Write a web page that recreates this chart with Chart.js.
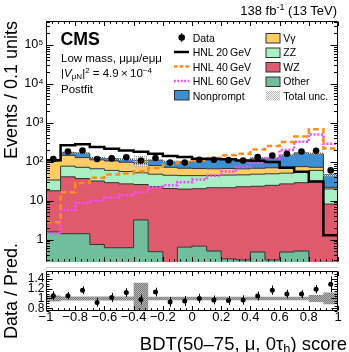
<!DOCTYPE html>
<html>
<head>
<meta charset="utf-8">
<title>BDT score, postfit</title>
<script src="https://cdn.jsdelivr.net/npm/chart.js@4.4.1/dist/chart.umd.min.js"></script>
<style>
body { margin: 0; background: #fff; }
#page { position: relative; width: 349px; height: 352px; overflow: hidden; font-family: "Liberation Sans", Arial, Helvetica, sans-serif; color: #000; }
#page canvas { position: absolute; left: 0; }
.t { position: absolute; white-space: nowrap; line-height: 0; }
.sup { position: relative; top: -0.45em; font-size: 70%; }
.sub { position: relative; top: 0.3em; font-size: 70%; }
.rot { transform-origin: 0 0; transform: rotate(-90deg); width: 200px; }
.leg { font-size: 10.5px; }
</style>
</head>
<body>
<div id="page">
<canvas id="mainChart" width="349" height="266" style="top:0"></canvas>
<canvas id="ratioChart" width="349" height="86" style="top:266px"></canvas>
<div style="position:absolute; left:46px; top:266.5px; width:292px; height:1.5px; background:#c8c8c8"></div>

<svg width="349" height="110" style="position:absolute; left:0; top:0">
  <defs>
    <pattern id="chk" width="2" height="2" patternUnits="userSpaceOnUse">
      <rect width="1" height="1" fill="#b4b4b4"/><rect x="1" y="1" width="1" height="1" fill="#b4b4b4"/>
    </pattern>
  </defs>
  <line x1="181.7" y1="33" x2="181.7" y2="42" stroke="#000" stroke-width="1"/>
  <circle cx="181.7" cy="37.5" r="3.3" fill="#000"/>
  <line x1="174" y1="52" x2="189" y2="52" stroke="#000" stroke-width="2.5"/>
  <line x1="174" y1="66.5" x2="189" y2="66.5" stroke="#ff8c1a" stroke-width="2.5" stroke-dasharray="3.5 2.2"/>
  <line x1="174" y1="81" x2="189" y2="81" stroke="#f54cf5" stroke-width="2.5" stroke-dasharray="1.8 1.6"/>
  <rect x="174.5" y="90.5" width="14.5" height="9.5" fill="#3d8fd1" stroke="#333" stroke-width="1"/>
  <rect x="266" y="33.5" width="14" height="9.5" fill="#ffcc66" stroke="#333" stroke-width="1"/>
  <rect x="266" y="48" width="14" height="9.5" fill="#a8f0c4" stroke="#333" stroke-width="1"/>
  <rect x="266" y="62.5" width="14" height="9.5" fill="#df5a6c" stroke="#333" stroke-width="1"/>
  <rect x="266" y="77" width="14" height="9.5" fill="#70be9c" stroke="#333" stroke-width="1"/>
  <rect x="266" y="91" width="14" height="9.5" fill="url(#chk)"/>
</svg>

<div class="t" style="right:12px; top:10.5px; font-size:13px">138 fb<span class="sup">-1</span> (13 TeV)</div>
<div class="t" style="left:60.5px; top:39.4px; font-size:17.7px; font-weight:bold">CMS</div>
<div class="t" style="left:61px; top:58px; font-size:11.5px">Low mass, μμμ/eμμ</div>
<div class="t" style="left:61px; top:72.7px; font-size:11.5px">|<i>V</i><span class="sub">μN</span>|<span class="sup">2</span> = 4.9&thinsp;×&thinsp;10<span class="sup">−4</span></div>
<div class="t" style="left:61px; top:88.5px; font-size:11.5px">Postfit</div>

<div class="t leg" style="left:192.7px; top:38.1px">Data</div>
<div class="t leg" style="left:192.7px; top:52.4px">HNL 20&thinsp;GeV</div>
<div class="t leg" style="left:192.7px; top:67.1px">HNL 40&thinsp;GeV</div>
<div class="t leg" style="left:192.7px; top:81.4px">HNL 60&thinsp;GeV</div>
<div class="t leg" style="left:192.7px; top:95.7px">Nonprompt</div>
<div class="t leg" style="left:283.3px; top:38.1px">Vγ</div>
<div class="t leg" style="left:283.3px; top:52.4px">ZZ</div>
<div class="t leg" style="left:283.3px; top:67.1px">WZ</div>
<div class="t leg" style="left:283.3px; top:81.4px">Other</div>
<div class="t leg" style="left:283.3px; top:95.7px">Total unc.</div>

<div class="t rot" style="left:10.6px; top:220.7px; font-size:18px; text-align:right">Events / 0.1 units</div>
<div class="t rot" style="left:10.6px; top:391px; font-size:18px; text-align:center">Data / Pred.</div>
<div class="t" style="right:2px; top:343.6px; font-size:18.5px">BDT(50–75, μ, 0τ<span class="sub">h</span>) score</div>
</div>

<script>
// bin edges of the BDT score
let binEdges = [-1, -0.9, -0.8, -0.7, -0.6, -0.5, -0.4, -0.3, -0.2, -0.1, 0, 0.1, 0.2, 0.3, 0.4, 0.5, 0.6, 0.7, 0.8, 0.9, 1];

// backgrounds, events per bin (postfit)
let other     = [1.57, 1.42, 1.42, 0.75, 0.62, 0.62, 3.2, 0.49, 0, 0.64, 0.68, 0.51, 0.32, 0.30, 0.48, 0.30, 0.48, 0.51, 0, 0];
let wz        = [16.4, 39.6, 35.6, 31.3, 28.4, 26.4, 22.8, 22.5, 20.5, 19.2, 19.6, 21.0, 21.2, 22.5, 23.0, 24.5, 26.5, 28.5, 31.5, 8.2];
let zz        = [16, 36, 35, 34, 31, 29, 26, 25, 24.5, 24.2, 23.7, 23, 24, 23.2, 24.5, 24.2, 24, 25, 28.5, 11.8];
let vgamma    = [71, 69, 56, 46, 45, 41, 38, 32, 27, 24, 23, 21.5, 21.5, 20, 20, 21, 21, 21, 12, 2];
let nonprompt = [7, 28, 39, 16, 15, 19, 20, 31, 30, 32, 46, 50, 48, 45, 58, 54, 76, 94, 89, 24.5];
// relative total uncertainty
let totalUnc  = [0.06, 0.04, 0.04, 0.04, 0.04, 0.04, 0.32, 0.035, 0.035, 0.035, 0.035, 0.035, 0.035, 0.035, 0.035, 0.035, 0.035, 0.035, 0.07, 0.12];

// signals
let hnl20 = [110, 265, 280, 238, 215, 195, 180, 160, 140, 132, 120, 118, 116, 108, 106, 98, 70, 55, 31, 1.3];
let hnl40 = [2.8, 16.5, 28.5, 39, 47, 50, 57, 69, 84, 98, 108, 125, 146, 161, 205, 255, 320, 445, 680, 220];
let hnl60 = [1.45, 5.8, 8.7, 10, 12, 14, 16.5, 22, 25, 30, 35, 44, 56, 74, 93, 125, 200, 325, 500, 290];

// observed
let data     = [118, 184, 195, 118, 122, 130, 108, 125, 95, 95, 113, 113, 110, 108, 132, 145, 161, 184, 192, 60];
let ratio    = [1.057, 1.057, 1.17, 0.92, 1.02, 1.12, 0.98, 1.13, 0.93, 0.95, 1.0, 0.97, 0.96, 0.97, 1.05, 1.17, 1.09, 1.09, 1.19, 1.29];
let ratioErr = [0.09, 0.075, 0.08, 0.09, 0.09, 0.09, 0.1, 0.09, 0.1, 0.1, 0.095, 0.09, 0.09, 0.095, 0.09, 0.095, 0.085, 0.08, 0.085, 0.16];

// axes
let xTicks = [-1, -0.8, -0.6, -0.4, -0.2, 0, 0.2, 0.4, 0.6, 0.8, 1];
let xTickLabels = ['\u22121', '\u22120.8', '\u22120.6', '\u22120.4', '\u22120.2', '0', '0.2', '0.4', '0.6', '0.8', '1'];
let yTicks = [1, 10, 100, 1000, 10000, 100000];
let yTickLabels = ['1', '10', '10\u00b2', '10\u00b3', '10\u2074', '10\u2075'];
let ratioTicks = [0.8, 1, 1.2, 1.4];
let ratioTickLabels = ['0.8', '1', '1.2', '1.4'];
let yMin = 0.266, yMax = 4.2e5;
let rMin = 0.745, rMax = 1.57;

let fontFam = '"Liberation Sans", Arial, sans-serif';

// histogram as a step line through the bin edges
function steps(vals){
    let pts = [];
    for(let i = 0; i < vals.length; i++){
        pts.push({x: binEdges[i], y: vals[i]});
    }
    pts.push({x: binEdges[vals.length], y: vals[vals.length - 1]});
    return pts;
}

function centers(vals){
    let pts = [];
    for(let i = 0; i < vals.length; i++){
        pts.push({x: (binEdges[i] + binEdges[i + 1]) / 2, y: vals[i]});
    }
    return pts;
}

// 2x2 checker used for the uncertainty bands
function makePattern(dark, light, bg){
    let c = document.createElement('canvas');
    c.width = 2; c.height = 2;
    let g = c.getContext('2d');
    if(bg){
        g.fillStyle = bg;
        g.fillRect(0, 0, 2, 2);
    }
    g.fillStyle = dark;
    g.fillRect(0, 0, 1, 1);
    if(light) g.fillStyle = light;
    g.fillRect(1, 1, 1, 1);
    return g.createPattern(c, 'repeat');
}

// stacked sums, bottom up
let layers = [other, wz, zz, vgamma, nonprompt];
let fills = ['#70be9c', '#df5a6c', '#a8f0c4', '#ffcc66', '#3d8fd1'];
let cum = [];
let run = other.map(() => 0);
for(let k = 0; k < layers.length; k++){
    run = run.map((v, i) => v + layers[k][i]);
    cum.push(run.map(v => Math.max(v, 0.1)));
}
let pred = run;
let uncUp = pred.map((v, i) => v * (1 + totalUnc[i]));
let uncDn = pred.map((v, i) => v * (1 - totalUnc[i]));
let dataErr = data.map((v, i) => v * ratioErr[i] / ratio[i]);
let ratioUp = totalUnc.map(u => 1 + u);
let ratioDn = totalUnc.map(u => 1 - u);

// ROOT style frame with ticks on the inside
let rootAxes = {
    id: 'rootAxes',
    afterDatasetsDraw(chart, args, opts){
        let ctx = chart.ctx;
        let a = chart.chartArea;
        let xs = chart.scales.x;
        let ys = chart.scales.y;
        let L = Math.round(a.left) + 0.5, R = Math.round(a.right) - 0.5;
        let T = Math.round(a.top) + 0.5, B = Math.round(a.bottom) - 0.5;
        ctx.save();
        ctx.strokeStyle = '#000';
        ctx.lineWidth = 1;
        ctx.beginPath();
        for(let i = 0; i <= 50; i++){
            let px = Math.round(xs.getPixelForValue(-1 + i * 0.04)) + 0.5;
            let len = (i % 5 == 0) ? opts.xMajor : opts.xMinor;
            ctx.moveTo(px, B); ctx.lineTo(px, B - len);
            ctx.moveTo(px, T); ctx.lineTo(px, T + len);
        }
        let yt = [];
        if(opts.log){
            for(let k = -1; k <= 6; k++){
                for(let m = 1; m <= 9; m++){
                    let v = m * Math.pow(10, k);
                    if(v >= ys.min && v <= ys.max) yt.push([v, m == 1]);
                }
            }
        } else {
            for(let i = 0; i < 40; i++){
                let v = opts.yStart + i * opts.yStep;
                if(v > ys.max) break;
                let q = v / opts.yMajorStep;
                yt.push([v, Math.abs(q - Math.round(q)) < 1e-6]);
            }
        }
        for(let t of yt){
            let py = Math.round(ys.getPixelForValue(t[0])) + 0.5;
            let len = t[1] ? opts.yMajor : opts.yMinor;
            ctx.moveTo(L, py); ctx.lineTo(L + len, py);
            ctx.moveTo(R, py); ctx.lineTo(R - len, py);
        }
        // frame
        ctx.moveTo(L, B); ctx.lineTo(L, T); ctx.lineTo(R, T); ctx.lineTo(R, B);
        if(!opts.noBottom){ ctx.lineTo(L, B); }
        ctx.stroke();
        ctx.restore();
    }
};

// vertical error bars under the markers
let errorBars = {
    id: 'errorBars',
    beforeDatasetDraw(chart, args){
        let ds = chart.data.datasets[args.index];
        if(!ds.errors) return;
        let ctx = chart.ctx;
        let ys = chart.scales.y;
        let meta = args.meta;
        ctx.save();
        ctx.strokeStyle = '#000';
        ctx.lineWidth = 1;
        ctx.beginPath();
        meta.data.forEach((pt, i) => {
            let v = ds.data[i].y;
            let x = Math.round(pt.x) + 0.5;
            ctx.moveTo(x, ys.getPixelForValue(v + ds.errors[i]));
            ctx.lineTo(x, ys.getPixelForValue(v - ds.errors[i]));
        });
        ctx.stroke();
        ctx.restore();
    }
};

function lineSet(vals, color, width, dash){
    return {data: steps(vals), borderColor: color, borderWidth: width, borderDash: dash || [],
        fill: false, stepped: true, pointRadius: 0, tension: 0};
}

let mainSets = [
    {data: centers(data), errors: dataErr, showLine: false, pointRadius: 3.3,
        pointBackgroundColor: '#000', pointBorderWidth: 0, fill: false},
    lineSet(hnl20, '#000', 2.5),
    lineSet(hnl40, '#ff8c1a', 2.5, [5.5, 3.5]),
    lineSet(hnl60, '#f54cf5', 2.6, [2, 1.7]),
    {data: steps(uncUp), borderColor: 'rgba(0,0,0,0)', borderWidth: 1,
        backgroundColor: makePattern('#999', 'rgba(255,255,255,0.85)'),
        fill: 5, stepped: true, pointRadius: 0},
    {data: steps(uncDn), borderColor: 'rgba(0,0,0,0)', borderWidth: 1, fill: false, stepped: true, pointRadius: 0}
];
for(let k = 0; k < cum.length; k++){
    mainSets.push({data: steps(cum[k]), borderColor: '#333', borderWidth: 1, backgroundColor: fills[k],
        fill: k == 0 ? 'start' : 5 + k, stepped: true, pointRadius: 0, tension: 0});
}

new Chart(document.getElementById('mainChart'), {
    type: 'line',
    data: {datasets: mainSets},
    options: {
        responsive: false,
        animation: false,
        devicePixelRatio: 1,
        layout: {padding: {top: 20.7, right: 11, bottom: 1.5, left: 0}},
        plugins: {
            legend: {display: false},
            tooltip: {enabled: false},
            rootAxes: {log: true, xMajor: 4.5, xMinor: 2.3, yMajor: 7, yMinor: 3.5, noBottom: true}
        },
        scales: {
            x: {type: 'linear', min: -1, max: 1, display: false},
            y: {
                type: 'logarithmic', min: yMin, max: yMax,
                afterBuildTicks: s => { s.ticks = yTicks.map(v => ({value: v})); },
                afterFit: s => { s.width = 46; s.paddingTop = 0; s.paddingBottom = 0; },
                ticks: {callback: (v, i) => yTickLabels[i], autoSkip: false, padding: 2.5, color: '#000',
                    font: {family: fontFam, size: 12.5}},
                grid: {display: false, drawTicks: false},
                border: {display: false}
            }
        }
    },
    plugins: [rootAxes, errorBars]
});

new Chart(document.getElementById('ratioChart'), {
    type: 'line',
    data: {datasets: [
        {data: centers(ratio), errors: ratioErr, showLine: false, pointRadius: 2.5,
            pointBackgroundColor: '#000', pointBorderWidth: 0, fill: false},
        {data: steps(ratioUp), borderColor: 'rgba(0,0,0,0)', borderWidth: 1,
            backgroundColor: makePattern('#7a7a7a', '#7a7a7a', '#b4b4b4'),
            fill: 2, stepped: true, pointRadius: 0},
        {data: steps(ratioDn), borderColor: 'rgba(0,0,0,0)', borderWidth: 1, fill: false, stepped: true, pointRadius: 0}
    ]},
    options: {
        responsive: false,
        animation: false,
        devicePixelRatio: 1,
        layout: {padding: {top: 4.5, right: 11, bottom: 0, left: 0}},
        plugins: {
            legend: {display: false},
            tooltip: {enabled: false},
            rootAxes: {log: false, yStart: 0.75, yStep: 0.05, yMajorStep: 0.2,
                xMajor: 4.5, xMinor: 2.3, yMajor: 6, yMinor: 3}
        },
        scales: {
            x: {
                type: 'linear', min: -1, max: 1,
                afterBuildTicks: s => { s.ticks = xTicks.map(v => ({value: v})); },
                afterFit: s => { s.height = 41; s.paddingLeft = 0; s.paddingRight = 0; },
                ticks: {callback: (v, i) => xTickLabels[i], autoSkip: false, maxRotation: 0, padding: 0, color: '#000',
                    font: {family: fontFam, size: 13, lineHeight: 1}},
                grid: {display: false, drawTicks: false},
                border: {display: false}
            },
            y: {
                type: 'linear', min: rMin, max: rMax,
                afterBuildTicks: s => { s.ticks = ratioTicks.map(v => ({value: v})); },
                afterFit: s => { s.width = 46; s.paddingTop = 0; s.paddingBottom = 0; },
                ticks: {callback: (v, i) => ratioTickLabels[i], autoSkip: false, padding: 1.5, color: '#000',
                    font: {family: fontFam, size: 12}},
                grid: {display: false, drawTicks: false},
                border: {display: false}
            }
        }
    },
    plugins: [rootAxes, errorBars]
});
</script>
</body>
</html>
